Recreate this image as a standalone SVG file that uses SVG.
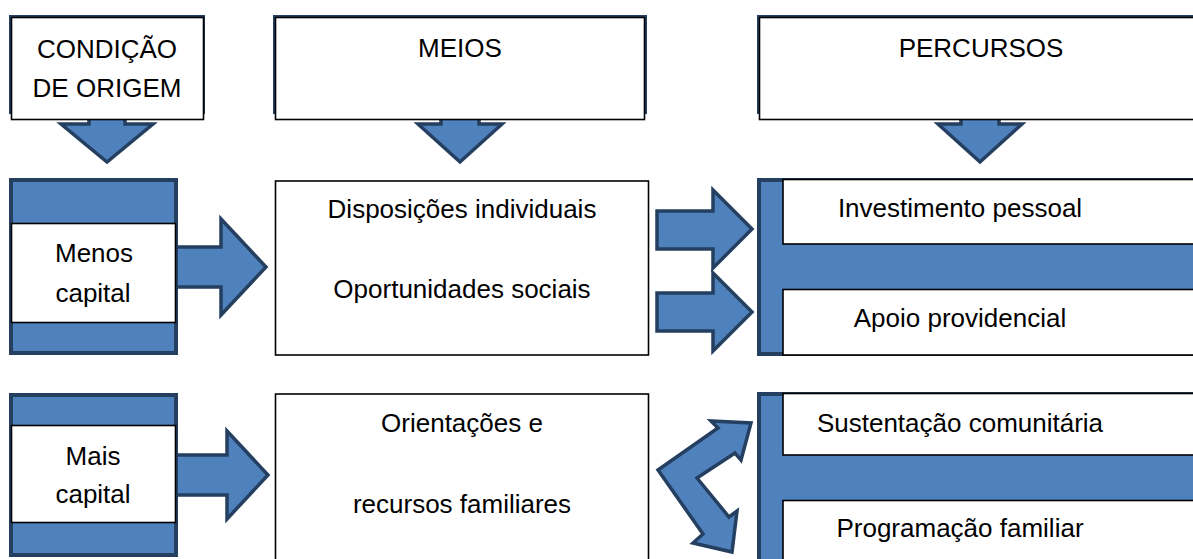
<svg xmlns="http://www.w3.org/2000/svg" width="1193" height="559" viewBox="0 0 1193 559">
<style>
.arrow{fill:#4F81BD;stroke:#243F60;stroke-width:3.5;stroke-linejoin:miter}
.blue{fill:#4F81BD;stroke:#243F60;stroke-width:4}
.shadow{fill:#243F60}
.box{fill:#FFFFFF;stroke:#000000;stroke-width:1.6}
.t{font-family:"Liberation Sans",Arial,sans-serif;font-size:26px;fill:#000000;text-anchor:middle}
</style>
<rect width="1193" height="559" fill="#FFFFFF"/>
<g id="connectors">
<polygon class="arrow" points="89,108 125,108 125,124 153,124 107,162 61,124 89,124"/>
<polygon class="arrow" points="441,108 479,108 479,124 502,124 460,162 418,124 441,124"/>
<polygon class="arrow" points="961,108 999,108 999,124 1022,124 980,162 938,124 961,124"/>
<polygon class="arrow" points="174,247 221,247 221,219 266,267 221,315 221,287 174,287"/>
<polygon class="arrow" points="174,455 227,455 227,431 268,475 227,519 227,495 174,495"/>
<polygon class="arrow" points="657,211 713,211 713,190 752,229 713,268 713,249 657,249"/>
<polygon class="arrow" points="657,293 713,293 713,273 752,312 713,351 713,331 657,331"/>
<polygon class="arrow" points="658,470 718,428 711,421 751,423 741,460 735,453 697,478 729,517 737,511 732,552 693,543 703,534"/>
</g>
<g id="condicao">
<rect class="shadow" x="9" y="15" width="196" height="99"/>
<rect class="box" x="11.5" y="17.5" width="192" height="102"/>
<text class="t" x="107" y="58">CONDIÇÃO</text>
<text class="t" x="107" y="97">DE ORIGEM</text>
</g>
<g id="meios">
<rect class="shadow" x="273" y="15" width="374" height="99"/>
<rect class="box" x="275.5" y="17.5" width="369" height="102"/>
<text class="t" x="460" y="57">MEIOS</text>
</g>
<g id="percursos">
<rect class="shadow" x="757" y="15" width="450" height="99"/>
<rect class="box" x="759.5" y="17.5" width="450" height="102"/>
<text class="t" x="981" y="57">PERCURSOS</text>
</g>
<g id="menos-capital">
<rect class="blue" x="11" y="180" width="165" height="173"/>
<rect class="box" x="11.5" y="223.5" width="164" height="99"/>
<text class="t" x="94" y="262">Menos</text>
<text class="t" x="93" y="302">capital</text>
</g>
<g id="disposicoes">
<rect class="box" x="275.5" y="181" width="373" height="174"/>
<text class="t" x="462" y="218">Disposições individuais</text>
<text class="t" x="462" y="298">Oportunidades sociais</text>
</g>
<g id="percursos-individuais">
<rect class="blue" x="759" y="180" width="450" height="174"/>
<rect class="box" x="783" y="179.5" width="430" height="64.5"/>
<rect class="box" x="783" y="289.5" width="430" height="65.5"/>
<text class="t" x="960" y="217">Investimento pessoal</text>
<text class="t" x="960" y="327">Apoio providencial</text>
</g>
<g id="mais-capital">
<rect class="blue" x="11" y="395" width="165" height="160"/>
<rect class="box" x="11.5" y="425.5" width="164" height="97"/>
<text class="t" x="93" y="465">Mais</text>
<text class="t" x="93" y="503">capital</text>
</g>
<g id="orientacoes">
<rect class="box" x="275.5" y="394" width="373" height="180"/>
<text class="t" x="462" y="432">Orientações e</text>
<text class="t" x="462" y="513">recursos familiares</text>
</g>
<g id="percursos-familiares">
<rect class="blue" x="759" y="394" width="450" height="180"/>
<rect class="box" x="783" y="393.5" width="430" height="61.5"/>
<rect class="box" x="783" y="500.5" width="430" height="80"/>
<text class="t" x="960" y="432">Sustentação comunitária</text>
<text class="t" x="960" y="537">Programação familiar</text>
</g>
</svg>
